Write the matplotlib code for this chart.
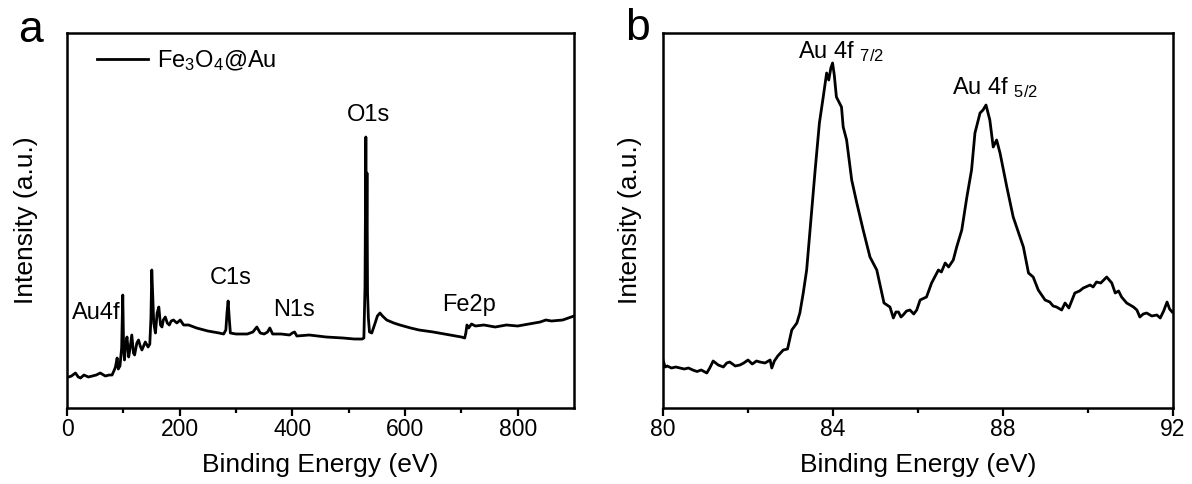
import matplotlib.pyplot as plt
import numpy as np

plt.rcParams["font.family"] = ["Liberation Sans", "DejaVu Sans"]
plt.rcParams["mathtext.fontset"] = "custom"
plt.rcParams["mathtext.rm"] = "Liberation Sans"
plt.rcParams["mathtext.it"] = "Liberation Sans:italic"
plt.rcParams["mathtext.bf"] = "Liberation Sans:bold"

# --- panel a: XPS survey (binding energy in eV, intensity in arbitrary units) ---
survey_energy = [
    0, 3, 8, 15, 20, 24, 30, 38, 45, 52, 59, 68, 75, 80, 84, 86, 89, 91, 94, 97,
    99, 100.5, 102, 104, 106.5, 109.5, 112, 115, 118, 120, 124, 127, 130, 133, 139,
    144, 147, 149, 150.5, 152, 154, 157, 160, 163, 166, 168.6, 171, 174.5, 178,
    181.6, 185, 189, 195, 201, 207, 216, 230, 250, 270, 278, 282, 284, 286, 288,
    290, 300, 320, 330, 337, 343, 350, 356, 360, 365, 380, 395, 400, 404, 408, 430,
    460, 490, 510, 524, 527, 529, 530.5, 531.5, 532.5, 533.5, 535, 537, 541, 547,
    551, 555.6, 560, 567.5, 580, 591, 610, 625, 650, 680, 700, 706, 708, 710, 713,
    718, 725, 740, 760, 780, 800, 820, 840, 850, 860, 880, 890, 900,
]
survey_counts = [
    31, 31, 32, 35, 31, 30, 33, 31, 32, 33, 35, 32, 33, 33, 38, 41, 50, 39, 42, 60,
    113, 60, 48, 62, 71, 51, 60, 73, 55, 53, 65, 68, 62, 58, 66,
    61, 64, 90, 138, 115, 85, 75, 95, 101, 83, 81, 88, 91, 85,
    83, 87, 88, 85, 88, 83, 83, 80, 77, 75, 74, 78, 95, 107, 90,
    75, 74, 74, 76, 81, 75, 74, 76, 80, 74, 74, 73, 75, 76, 72, 73,
    71, 70, 69, 69, 70, 121, 271, 150, 235, 115, 90, 76, 75, 85,
    92, 95, 92, 88, 85, 83, 80, 78, 76, 73, 71, 70, 75, 83, 80,
    84, 82, 83, 81, 83, 82, 84, 86, 88, 87, 88, 90, 92,
]
survey_labels = ["Au4f", "C1s", "N1s", "O1s", "Fe2p"]
survey_label_pos = [(8, 95), (291, 130), (403, 98), (536, 293), (714, 103)]

# --- panel b: Au 4f high-resolution scan ---
au_energy = [
    80.0, 80.05, 80.1, 80.2, 80.3, 80.4, 80.5, 80.6, 80.7, 80.8, 80.9, 81.03, 81.1,
    81.18, 81.3, 81.42, 81.5, 81.57, 81.7, 81.81, 81.9, 82.0, 82.1, 82.2, 82.28,
    82.4, 82.52, 82.56, 82.62, 82.7, 82.83, 82.93, 83.03, 83.15, 83.22, 83.3, 83.38,
    83.46, 83.58, 83.68, 83.77, 83.85, 83.9, 83.95, 83.99, 84.03, 84.08, 84.2,
    84.24, 84.32, 84.44, 84.56, 84.71, 84.87, 85.03, 85.2, 85.34, 85.42, 85.48,
    85.54, 85.6, 85.65, 85.73, 85.81, 85.9, 85.97, 86.05, 86.2, 86.32, 86.48, 86.55,
    86.64, 86.72, 86.83, 86.91, 87.03, 87.15, 87.26, 87.34, 87.46, 87.53, 87.6,
    87.69, 87.77, 87.85, 87.93, 88.09, 88.24, 88.4, 88.48, 88.6, 88.71, 88.83,
    88.99, 89.1, 89.18, 89.26, 89.38, 89.46, 89.55, 89.69, 89.8, 89.89, 90.05,
    90.12, 90.2, 90.3, 90.44, 90.5, 90.56, 90.64, 90.72, 90.79, 90.85, 90.91, 91.07,
    91.15, 91.22, 91.3, 91.38, 91.5, 91.62, 91.7, 91.78, 91.86, 91.92, 91.98,
]
au_counts = [
    48, 41, 42, 40, 41, 40, 39, 40, 38, 36.5, 38, 35, 40,
    47, 43, 41, 45, 46, 42, 43, 45, 48, 44, 47, 46,
    45, 48, 40, 47, 52, 58, 59, 78, 85, 95, 115, 138,
    178, 238, 285, 311, 335, 328, 340, 345, 333, 311, 301,
    281, 268, 228, 205, 178, 151, 138, 105, 101, 90, 96,
    96, 91, 93, 97, 98, 94, 98, 108, 111, 125, 138, 136,
    145, 141, 148, 161, 178, 211, 238, 275, 295, 298, 303,
    288, 261, 268, 255, 221, 191, 171, 161, 135, 131, 118,
    108, 106, 102, 101, 98, 105, 100, 115, 117, 120, 123,
    121, 126, 125, 131, 128, 125, 115, 117, 111, 108, 105, 101,
    98, 91, 94, 95, 92, 93, 90, 97, 106, 99, 96,
]
au_labels = ["Au 4f $_{7/2}$", "Au 4f $_{5/2}$"]
au_label_pos = [(84.18, 356), (87.82, 320)]


def style_axis(ax, ypad):
    for sp in ax.spines.values():
        sp.set_linewidth(1.8)
    ax.set_yticks([])
    ax.tick_params(axis="x", which="major", direction="out", length=6, width=1.6,
                   labelsize=16.5, pad=1)
    ax.tick_params(axis="x", which="minor", direction="out", length=3.5, width=1.6)
    ax.set_ylim(0, 375)
    ax.set_xlabel("Binding Energy (eV)", fontsize=19, labelpad=9)
    ax.set_ylabel("Intensity (a.u.)", fontsize=19, labelpad=ypad)


fig = plt.figure(figsize=(11.92, 4.84), dpi=100)
ax_a = fig.add_axes([67 / 1192, 1 - 408 / 484, 507 / 1192, 375 / 484])
ax_b = fig.add_axes([663 / 1192, 1 - 408 / 484, 510 / 1192, 375 / 484])

ax_a.plot(survey_energy, survey_counts, color="black", lw=2.0, label="Fe$_3$O$_4$@Au")
ax_a.set_xlim(0, 900)
ax_a.set_xticks([0, 200, 400, 600, 800])
ax_a.set_xticks(np.arange(100, 900, 200), minor=True)
style_axis(ax_a, 21)
for txt, (x, y) in zip(survey_labels, survey_label_pos):
    ha = "left" if txt == "Au4f" else "center"
    ax_a.text(x, y, txt, fontsize=17, ha=ha, va="center")
ax_a.legend(loc="upper left", bbox_to_anchor=(0.059, 0.96), frameon=False,
            borderpad=0, borderaxespad=0, handlelength=2.15, handletextpad=0.4,
            fontsize=17)

ax_b.plot(au_energy, au_counts, color="black", lw=2.0)
ax_b.set_xlim(80, 92)
ax_b.set_xticks([80, 84, 88, 92])
ax_b.set_xticks([82, 86, 90], minor=True)
style_axis(ax_b, 15)
for txt, (x, y) in zip(au_labels, au_label_pos):
    ax_b.text(x, y, txt, fontsize=17, ha="center", va="center")

fig.text(31 / 1192, 1 - 30 / 484, "a", fontsize=32, ha="center", va="center")
fig.text(637 / 1192, 1 - 28 / 484, "b", fontsize=32, ha="center", va="center")

fig.savefig("out.png", dpi=100)
